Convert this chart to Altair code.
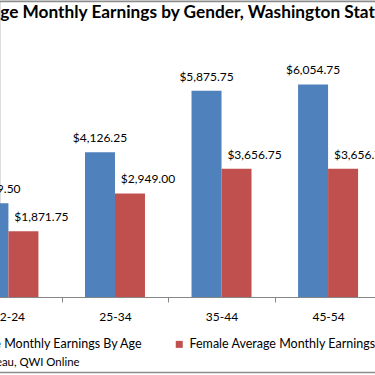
import altair as alt
import pandas as pd

ages = ["22-24", "25-34", "35-44", "45-54"]
male = [2669.50, 4126.25, 5875.75, 6054.75]
female = [1871.75, 2949.00, 3656.75, 3656.75]
series_names = ["Male Average Monthly Earnings By Age",
                "Female Average Monthly Earnings By Age"]
colors = ["#4F81BD", "#C0504D"]
title_text = "Average Monthly Earnings by Gender, Washington State"
source_text = ["Source: U.S. Census Bureau, QWI Online"]

rows = []
for a, m, f in zip(ages, male, female):
    rows.append({"age": a, "series": series_names[0], "value": m})
    rows.append({"age": a, "series": series_names[1], "value": f})
df = pd.DataFrame(rows)

FONT = "Lato"

x_enc = alt.X(
    "age:N", title=None, sort=ages,
    scale=alt.Scale(domain=ages, range=[-44.85, 381.35], paddingInner=0, paddingOuter=0),
    axis=alt.Axis(labelAngle=0, domainColor="#868686", tickColor="#868686",
                  tickBand="extent", tickSize=5, labelFont=FONT, labelFontSize=12,
                  labelColor="#000000", labelPadding=9, grid=False, domainWidth=1),
)
y_enc = alt.Y("value:Q", scale=alt.Scale(domain=[0, 8461.5]), axis=None)
xo_enc = alt.XOffset("series:N", sort=series_names,
                     scale=alt.Scale(domain=series_names, paddingInner=0, paddingOuter=0.776))
color_enc = alt.Color(
    "series:N", sort=series_names,
    scale=alt.Scale(domain=series_names, range=colors),
    legend=alt.Legend(title=None, orient="none", legendX=-90, legendY=338,
                      direction="horizontal", symbolType="square", symbolSize=49,
                      symbolStrokeWidth=0, labelFont=FONT, labelFontSize=12.5,
                      labelColor="#000000", labelLimit=400, columnPadding=29,
                      labelOffset=4, padding=0),
)

base = alt.Chart(df)
bars = base.mark_bar().encode(x=x_enc, xOffset=xo_enc, y=y_enc, color=color_enc)

text_m = base.transform_filter(alt.datum.series == series_names[0]).mark_text(
    dy=-14, baseline="middle", font=FONT, fontSize=12, color="#000000"
).encode(x=x_enc, xOffset=xo_enc, y=y_enc, text=alt.Text("value:Q", format="$,.2f"))

text_f = base.transform_filter(alt.datum.series == series_names[1]).mark_text(
    dy=-14, dx=18, baseline="middle", font=FONT, fontSize=12, color="#000000"
).encode(x=x_enc, xOffset=xo_enc, y=y_enc, text=alt.Text("value:Q", format="$,.2f"))

border_top = alt.Chart(pd.DataFrame({"k": [0]})).mark_rule(
    color="#8C8C8C", strokeWidth=1.5
).encode(x=alt.value(-10), x2=alt.value(400), y=alt.value(1.5))
border_bottom = alt.Chart(pd.DataFrame({"k": [0]})).mark_rule(
    color="#8C8C8C", strokeWidth=1.5
).encode(x=alt.value(-10), x2=alt.value(400), y=alt.value(372.5))

src = alt.Chart(pd.DataFrame({"t": source_text})).mark_text(
    align="right", baseline="middle", font=FONT, fontSize=11.4, color="#000000"
).encode(x=alt.value(79.5), y=alt.value(363), text="t:N")

chart = alt.layer(border_top, border_bottom, bars, text_m, text_f, src).properties(
    width=375, height=297,
    title=alt.TitleParams(title_text, anchor="start", dx=-44.2, dy=35, offset=0,
                          font=FONT, fontSize=17.25, fontWeight="bold", color="#000000",
                          baseline="alphabetic", frame="group"),
    padding={"left": 0, "top": 0, "right": 0, "bottom": 78},
    autosize=alt.AutoSizeParams(type="none"),
).configure_view(stroke=None).configure(background="white")

chart.save("out.html", embed_options={"renderer": "svg", "actions": False})
